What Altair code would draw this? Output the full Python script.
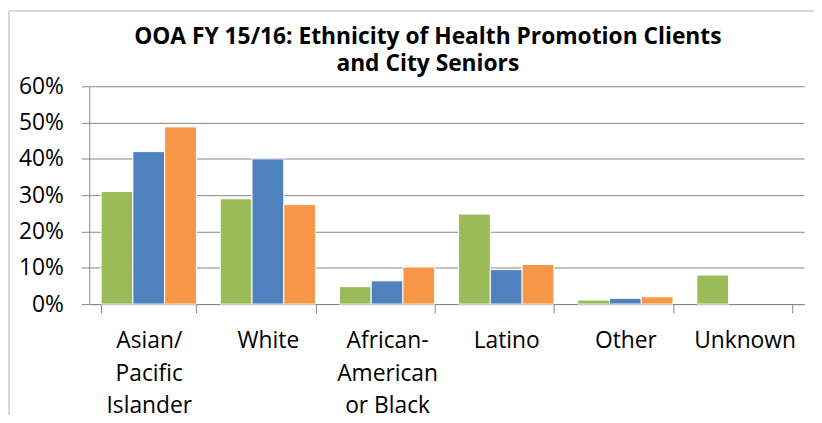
import altair as alt
import pandas as pd

categories = ["Asian/Pacific Islander", "White", "African-American or Black",
              "Latino", "Other", "Unknown"]
series = ["Health Promotion Clients", "OOA Clients", "City Seniors"]
health_promotion = [0.31, 0.29, 0.048, 0.248, 0.011, 0.080]
ooa_clients = [0.42, 0.40, 0.064, 0.095, 0.016, None]
city_seniors = [0.488, 0.274, 0.102, 0.109, 0.020, None]
colors = ["#9BBB59", "#4F81BD", "#F79646"]

rows = []
for s, vals in zip(series, [health_promotion, ooa_clients, city_seniors]):
    for c, v in zip(categories, vals):
        if v is not None:
            rows.append({"Ethnicity": c, "Series": s, "Share": v})
df = pd.DataFrame(rows)

label_expr = ("datum.value == 'Asian/Pacific Islander' ? ['Asian/', 'Pacific', 'Islander'] : "
              "datum.value == 'African-American or Black' ? ['African-', 'American', 'or Black'] : datum.value")

FONT = "Open Sans"
GRAY = "#868686"

bars = alt.Chart(df).mark_bar(stroke="white", strokeWidth=1).encode(
    x=alt.X("Ethnicity:N", sort=categories, title=None,
            scale=alt.Scale(paddingInner=0.2, paddingOuter=0.1),
            axis=alt.Axis(labelAngle=0, labelExpr=label_expr, labelFontSize=23,
                          labelFont=FONT, labelColor="black", labelLineHeight=33,
                          labelBaseline="top", labelPadding=17, labelLimit=300,
                          tickSize=9, tickBand="extent", tickColor=GRAY,
                          domainColor=GRAY)),
    xOffset=alt.XOffset("Series:N", sort=series, scale=alt.Scale(paddingInner=0, paddingOuter=0)),
    y=alt.Y("Share:Q", title=None,
            scale=alt.Scale(domain=[0, 0.6], nice=False),
            axis=alt.Axis(format=".0%", values=[0, 0.1, 0.2, 0.3, 0.4, 0.5, 0.6],
                          labelFontSize=23, labelFont=FONT, labelColor="black",
                          labelPadding=18, tickSize=8, tickColor=GRAY,
                          domainColor=GRAY, grid=True, gridColor=GRAY)),
    color=alt.Color("Series:N", sort=series,
                    scale=alt.Scale(domain=series, range=colors), legend=None),
)

frame_left = alt.Chart(df).mark_rule(color="#d9d9d9", strokeWidth=2).encode(
    x=alt.value(-81), y=alt.value(-76), y2=alt.value(340))
frame_top = alt.Chart(df).mark_rule(color="#d9d9d9", strokeWidth=2).encode(
    x=alt.value(-81), x2=alt.value(740), y=alt.value(-76))

chart = alt.layer(bars, frame_left, frame_top).properties(
    width=722, height=220,
    autosize=alt.AutoSizeParams(type="none"),
    padding={"left": 82, "top": 77, "right": 10, "bottom": 110},
    title=alt.TitleParams(
        text=["OOA FY 15/16: Ethnicity of Health Promotion Clients", "and City Seniors"],
        font=FONT, fontSize=23, fontWeight="bold", color="black",
        lineHeight=28, anchor="middle", dx=-19, offset=-67),
).configure_view(stroke=None)

chart.save("out.html", embed_options={"renderer": "svg", "actions": False})
